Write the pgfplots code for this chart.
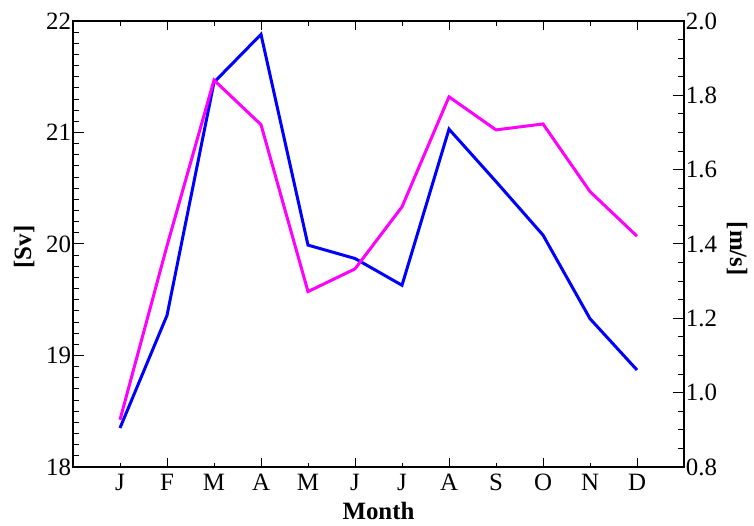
\documentclass[border=0pt]{standalone}
\usepackage{pgfplots}
\pgfplotsset{compat=1.18}
\usepackage{fontspec}
\setmainfont{Liberation Serif}
\definecolor{myblue}{RGB}{0,0,255}
\definecolor{mymag}{RGB}{255,0,255}
\newcommand{\lblfont}{\fontsize{25}{30}\selectfont\bfseries}
\begin{document}
\begin{tikzpicture}[x=1bp,y=1bp]
\pgfplotsset{
  every axis/.append style={
    scale only axis, width=611bp, height=446bp,
    xmin=0, xmax=13,
    line width=1.2bp,
    tick style={line width=1.0bp, black},
    tick label style={font=\fontsize{25}{30}\selectfont},
    /pgf/number format/assume math mode=true,
  },
}
% x axis box
\begin{axis}[
  name=ax,
  ymin=18, ymax=22,
  ytick=\empty,
  major tick length=4.5bp,
  xtick={1,...,12},
  xticklabels={J,F,M,A,M,J,J,A,S,O,N,D},
  xtick pos=both,
  xticklabel pos=lower,
  extra x ticks={2,4,...,12},
  extra x tick labels={},
  extra x tick style={major tick length=9bp},
  xticklabel style={yshift=-3bp},
  xlabel={Month},
  every axis x label/.style={at={(axis description cs:0.5,-0.117)},anchor=base,font=\lblfont},
]
\end{axis}
% left y axis
\begin{axis}[
  ymin=18, ymax=22,
  axis y line*=left,
  axis x line=none,
  ytick={18,19,20,21,22},
  minor ytick={18.1,18.2,...,21.95},
  major tick length=11bp, minor tick length=6bp,
  yticklabel style={xshift=2bp},
  ylabel={[Sv]},
  every axis y label/.style={at={(axis description cs:-0.080,0.493)},rotate=90,anchor=center,font=\lblfont},
]
\addplot[myblue, line width=3bp] coordinates {
 (1,18.35) (2,19.36) (3,21.45) (4,21.88) (5,19.99) (6,19.87)
 (7,19.63) (8,21.03) (9,20.56) (10,20.08) (11,19.33) (12,18.87)};
\end{axis}
% right y axis
\begin{axis}[
  ymin=0.8, ymax=2.0,
  axis y line*=right,
  axis x line=none,
  ytick={0.8,1.0,...,2.01},
  minor ytick={0.85,0.9,...,1.96},
  major tick length=11bp, minor tick length=6bp,
  yticklabel style={/pgf/number format/.cd,fixed,fixed zerofill,precision=1,/tikz/.cd, xshift=-2bp},
  ylabel={[m/s]},
  every axis y label/.style={at={(axis description cs:1.087,0.489)},rotate=-90,anchor=center,font=\lblfont},
]
\addplot[mymag, line width=3bp] coordinates {
 (1,0.927) (2,1.395) (3,1.841) (4,1.721) (5,1.272) (6,1.333)
 (7,1.500) (8,1.796) (9,1.707) (10,1.723) (11,1.541) (12,1.421)};
\end{axis}
\pgfresetboundingbox
\path[use as bounding box] ([xshift=-73bp,yshift=-59bp]ax.south west) rectangle ([xshift=70bp,yshift=21bp]ax.north east);
\end{tikzpicture}
\end{document}
